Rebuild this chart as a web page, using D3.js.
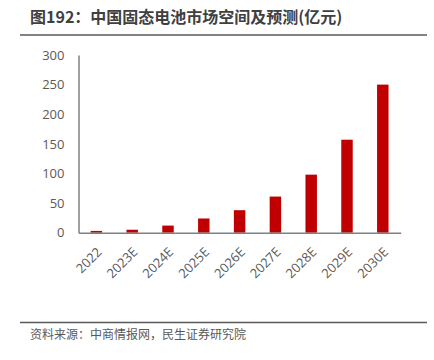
<!DOCTYPE html>
<html><head><meta charset="utf-8">
<script src="https://cdn.jsdelivr.net/npm/d3@7"></script>
<style>body{margin:0;background:#fff;}svg{display:block;font-family:"Noto Sans CJK SC","Noto Sans",sans-serif;}</style>
</head><body>
<svg id="c" width="434" height="360"></svg>
<script>
const categories = ["2022","2023E","2024E","2025E","2026E","2027E","2028E","2029E","2030E"];
const values = [3, 5, 12, 24, 38, 61, 98, 157, 250];
const yTicks = [0, 50, 100, 150, 200, 250, 300];
const title = "图192：中国固态电池市场空间及预测(亿元)";
const source = "资料来源：中商情报网，民生证券研究院";

const svg = d3.select("#c");
const x = d3.scaleBand().domain(categories).range([78.5, 400.7]).paddingInner(0.68).paddingOuter(0.34);
const y = d3.scaleLinear().domain([0, 300]).range([232.7, 55]);

svg.append("text").attr("x", 30).attr("y", 23).attr("font-size", 16).attr("font-weight", "bold")
  .attr("fill", "#404040").text(title);
svg.append("line").attr("x1", 20).attr("x2", 427).attr("y1", 35).attr("y2", 35)
  .attr("stroke", "#595959").attr("stroke-width", 1.5);

svg.selectAll("rect.bar").data(values).join("rect").attr("class", "bar")
  .attr("x", (d, i) => x(categories[i])).attr("width", x.bandwidth())
  .attr("y", d => y(d)).attr("height", d => y(0) - y(d)).attr("fill", "#C00000");

const yAxis = svg.append("g").attr("transform", "translate(78.5,0)")
  .call(d3.axisLeft(y).tickValues(yTicks).tickSize(0).tickPadding(14));
yAxis.select(".domain").attr("stroke", "#808080").attr("stroke-width", 1.5);
yAxis.selectAll("text").attr("font-size", 13).attr("fill", "#595959")
  .attr("font-family", "'Open Sans','Noto Sans',sans-serif");

const xAxis = svg.append("g").attr("transform", "translate(0,232.7)")
  .call(d3.axisBottom(x).tickSize(0).tickPadding(0));
xAxis.select(".domain").attr("stroke", "#808080").attr("stroke-width", 1.5);
xAxis.selectAll("text").attr("font-size", 13).attr("fill", "#595959")
  .attr("font-family", "'Open Sans','Noto Sans',sans-serif")
  .attr("text-anchor", "end").attr("dy", "0.35em")
  .attr("transform", "translate(3,17) rotate(-45)");

svg.append("line").attr("x1", 20).attr("x2", 427).attr("y1", 322.5).attr("y2", 322.5)
  .attr("stroke", "#595959").attr("stroke-width", 1.5);
svg.append("text").attr("x", 30).attr("y", 339).attr("font-size", 12)
  .attr("fill", "#595959").text(source);
</script>
</body></html>
